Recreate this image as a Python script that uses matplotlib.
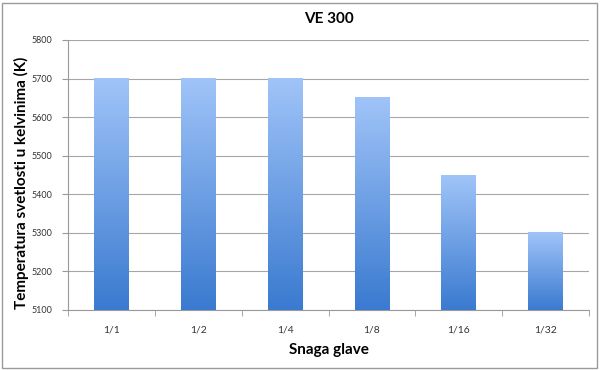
import numpy as np
import matplotlib
matplotlib.use("Agg")
import matplotlib.pyplot as plt
from matplotlib.patches import Rectangle
from matplotlib.colors import LinearSegmentedColormap

categories = ["1/1", "1/2", "1/4", "1/8", "1/16", "1/32"]
values = [5700, 5700, 5700, 5650, 5450, 5300]
y_ticks = [5100, 5200, 5300, 5400, 5500, 5600, 5700, 5800]

plt.rcParams['font.family'] = ['Lato', 'DejaVu Sans']

fig = plt.figure(figsize=(6.0, 3.7), dpi=100)
ax = fig.add_axes([68/600, 1-310/370, (589-68)/600, 270/370])

# light blue at the top of each bar -> darker at the bottom
cmap = LinearSegmentedColormap.from_list("bar", ["#3a7ad0", "#a0c4f8"])
grad = np.linspace(0, 1, 256).reshape(-1, 1)
base = 5100
width = 0.40
x = np.arange(len(categories))
bars = ax.bar(x, np.array(values) - base, bottom=base, width=width, color="none", zorder=3)
for b in bars:
    x0, y0 = b.get_x(), b.get_y()
    ax.imshow(grad, cmap=cmap, origin="lower", aspect="auto",
              extent=[x0, x0 + b.get_width(), y0, y0 + b.get_height()], zorder=3)

ax.set_xlim(-0.5, len(categories) - 0.5)
ax.set_ylim(5100, 5800)
ax.set_yticks(y_ticks)
ax.set_yticklabels([str(t) for t in y_ticks], fontsize=6.5, color="#333333")
ax.set_xticks(x)
ax.set_xticklabels(categories, fontsize=7.5, color="#333333")
ax.tick_params(axis="x", length=0, pad=11)
ax.set_xticks(np.arange(len(categories) + 1) - 0.5, minor=True)
ax.tick_params(axis="x", which="minor", length=4, color="#999999")
ax.tick_params(axis="y", length=4, color="#999999", pad=7)
ax.grid(axis="y", color="#a6a6a6", linewidth=0.8, zorder=0)
ax.set_axisbelow(True)
for s in ["top", "right"]:
    ax.spines[s].set_visible(False)
for s in ["left", "bottom"]:
    ax.spines[s].set_color("#999999")
    ax.spines[s].set_linewidth(0.8)

ax.set_title("VE 300", fontsize=11, fontweight="bold", pad=12)
ax.set_xlabel("Snaga glave", fontsize=11, fontweight="bold", labelpad=6)
ax.set_ylabel("Temperatura svetlosti u kelvinima (K)", fontsize=11, fontweight="bold")
ax.yaxis.set_label_coords(-39/521, 0.47)

fig.patches.append(Rectangle((2/600, 2/370), 595/600, 365/370, transform=fig.transFigure,
                             fill=False, edgecolor="#9a9a9a", linewidth=1))

fig.savefig("out.png", dpi=100)
